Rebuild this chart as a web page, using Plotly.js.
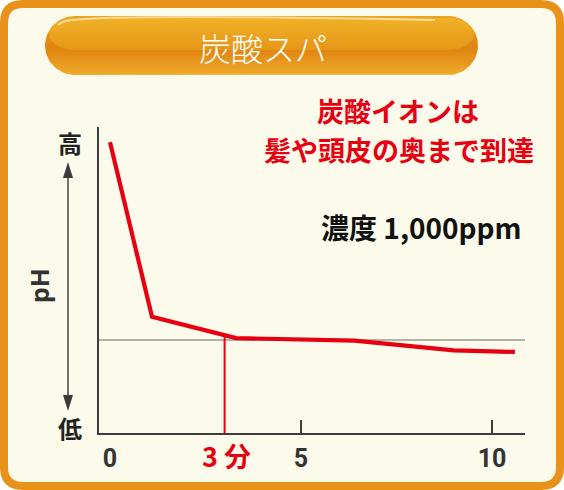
<!DOCTYPE html>
<html>
<head>
<meta charset="utf-8">
<script src="https://cdn.plot.ly/plotly-3.0.1.min.js"></script>
<style>html,body{margin:0;padding:0;background:#fff;}#chart{width:564px;height:490px;}</style>
</head>
<body>
<div id="chart"></div>
<script>
// ---- data ----
const timeMin = [0, 1.1, 3.3, 6.4, 9.0, 10.6];      // minutes
const phLevel = [9.5, 3.8, 3.1, 3.02, 2.7, 2.65];    // relative pH (high -> low)
const refLevel = 3.04;                               // grey reference level
const markTime = [3, 3];                             // 3 minutes marker
const markLevel = [0, 3.2];
const tickVals = [0, 5, 10];
const tickText = ['0', '5', '10'];
const minorTickVals = [5, 10];
const titleText = '炭酸スパ';
const noteLines = ['炭酸イオンは', '髪や頭皮の奥まで到達'];
const concText = '濃度 1,000ppm';
const markLabel = '3 分';

// ---- helpers (pixel -> paper) ----
const W = 564, H = 490;
const X = p => p / W, Y = p => 1 - p / H;
function rrPath(x0, y0, x1, y1, r) {
  const f = (a, b) => X(a).toFixed(5) + ',' + Y(b).toFixed(5);
  return 'M' + f(x0 + r, y0) + ' L' + f(x1 - r, y0) + ' Q' + f(x1, y0) + ' ' + f(x1, y0 + r) +
    ' L' + f(x1, y1 - r) + ' Q' + f(x1, y1) + ' ' + f(x1 - r, y1) +
    ' L' + f(x0 + r, y1) + ' Q' + f(x0, y1) + ' ' + f(x0, y1 - r) +
    ' L' + f(x0, y0 + r) + ' Q' + f(x0, y0) + ' ' + f(x0 + r, y0) + ' Z';
}
function pill(x0, y0, x1, y1, rx) {
  const ry = (y1 - y0) / 2, cy = (y0 + y1) / 2;
  const xs = [], ys = [];
  for (let i = 0; i <= 40; i++) { const a = Math.PI / 2 + Math.PI * i / 40; xs.push(x0 + rx + rx * Math.cos(a)); ys.push(cy - ry * Math.sin(a)); }
  for (let i = 0; i <= 40; i++) { const a = -Math.PI / 2 + Math.PI * i / 40; xs.push(x1 - rx + rx * Math.cos(a)); ys.push(cy - ry * Math.sin(a)); }
  xs.push(xs[0]); ys.push(ys[0]);
  return {xs, ys};
}

const red = '#E60012';
const pBase = pill(45, 16, 478, 75, 30);
const pGloss = pill(49, 18, 474, 50, 26);

const traces = [
  {x: timeMin, y: phLevel, type: 'scatter', mode: 'lines', line: {color: red, width: 4.2}, xaxis: 'x', yaxis: 'y', hoverinfo: 'skip'},
  {x: markTime, y: markLevel, type: 'scatter', mode: 'lines', line: {color: red, width: 2}, xaxis: 'x3', yaxis: 'y', hoverinfo: 'skip'},
  {x: pBase.xs, y: pBase.ys, type: 'scatter', mode: 'lines', fill: 'toself', line: {width: 0},
   fillgradient: {type: 'vertical', start: 16, stop: 75, colorscale: [[0, '#EBA51E'], [0.55, '#E0830F'], [1, '#EEAB2B']]},
   xaxis: 'x2', yaxis: 'y2', hoverinfo: 'skip'},
  {x: pGloss.xs, y: pGloss.ys, type: 'scatter', mode: 'lines', fill: 'toself', line: {width: 0},
   fillgradient: {type: 'vertical', start: 18, stop: 50, colorscale: [[0, '#F0B227'], [1, '#E79618']]},
   xaxis: 'x2', yaxis: 'y2', hoverinfo: 'skip'},
  {x: [58, 66, 435], y: [25, 21, 20], type: 'scatter', mode: 'lines', line: {color: 'rgba(255,255,255,0.55)', width: 2, shape: 'spline'},
   xaxis: 'x2', yaxis: 'y2', hoverinfo: 'skip'}
];

const xRange = [-11 / 38.2, (525 - 110) / 38.2];
const axisCol = '#3d3d3d';
const layout = {
  width: W, height: H,
  margin: {l: 0, r: 0, t: 0, b: 0},
  paper_bgcolor: '#ffffff', plot_bgcolor: 'rgba(0,0,0,0)',
  showlegend: false, hovermode: false,
  xaxis: {domain: [99 / W, 525 / W], range: xRange, showgrid: false, zeroline: false,
    showline: true, linecolor: axisCol, linewidth: 1.6,
    tickmode: 'array', tickvals: tickVals, ticktext: tickText, ticks: '',
    tickfont: {family: 'Liberation Sans Narrow, Roboto, sans-serif', size: 25, color: '#333', weight: 'bold'},
    ticklabelstandoff: 2, anchor: 'y', fixedrange: true},
  xaxis3: {overlaying: 'x', matches: 'x', range: xRange, anchor: 'y', showgrid: false, zeroline: false, showline: false,
    tickmode: 'array', tickvals: minorTickVals, ticks: 'inside', ticklen: 13, tickwidth: 1.6, tickcolor: axisCol,
    showticklabels: false, fixedrange: true},
  yaxis: {domain: [1 - 433 / H, 1 - 127 / H], range: [0, 10], showgrid: false, zeroline: false,
    showline: true, linecolor: axisCol, linewidth: 1.6, showticklabels: false, ticks: '', anchor: 'x', fixedrange: true},
  xaxis2: {domain: [0, 1], range: [0, W], visible: false, anchor: 'y2', fixedrange: true},
  yaxis2: {domain: [0, 1], range: [H, 0], visible: false, anchor: 'x2', fixedrange: true},
  shapes: [
    {type: 'path', xref: 'paper', yref: 'paper', layer: 'below', path: rrPath(4, 4, 560, 486, 19),
     fillcolor: '#FCFAEA', line: {color: '#E8921A', width: 8}},
    {type: 'line', xref: 'x domain', yref: 'y', x0: 0, x1: 1, y0: refLevel, y1: refLevel, layer: 'below',
     line: {color: '#9a9a94', width: 1.5}},
    {type: 'line', xref: 'paper', yref: 'paper', x0: X(68), x1: X(68), y0: Y(175), y1: Y(398), line: {color: '#3a3a3a', width: 1.4}},
    {type: 'path', xref: 'paper', yref: 'paper', path: 'M' + X(68) + ',' + Y(162) + ' L' + X(73) + ',' + Y(178) + ' L' + X(63) + ',' + Y(178) + ' Z',
     fillcolor: '#3a3a3a', line: {width: 0}},
    {type: 'path', xref: 'paper', yref: 'paper', path: 'M' + X(68) + ',' + Y(411) + ' L' + X(73) + ',' + Y(395) + ' L' + X(63) + ',' + Y(395) + ' Z',
     fillcolor: '#3a3a3a', line: {width: 0}}
  ],
  annotations: [
    {xref: 'paper', yref: 'paper', x: X(263), y: Y(47), text: titleText, showarrow: false, xanchor: 'center', yanchor: 'middle',
     font: {family: 'Noto Sans CJK JP, sans-serif', size: 32, color: '#ffffff', weight: 300}},
    {xref: 'paper', yref: 'paper', x: X(398), y: Y(110), text: noteLines[0], showarrow: false, xanchor: 'center', yanchor: 'middle',
     font: {family: 'Noto Sans CJK JP, sans-serif', size: 27, color: red, weight: 'bold'}},
    {xref: 'paper', yref: 'paper', x: X(399), y: Y(149), text: noteLines[1], showarrow: false, xanchor: 'center', yanchor: 'middle',
     font: {family: 'Noto Sans CJK JP, sans-serif', size: 27, color: red, weight: 'bold'}},
    {xref: 'paper', yref: 'paper', x: X(421), y: Y(227), text: concText, showarrow: false, xanchor: 'center', yanchor: 'middle',
     font: {family: 'Noto Sans CJK JP, sans-serif', size: 28, color: '#111', weight: 'bold'}},
    {xref: 'paper', yref: 'paper', x: X(70), y: Y(143), text: '高', showarrow: false, xanchor: 'center', yanchor: 'middle',
     font: {family: 'Noto Sans CJK JP, sans-serif', size: 24, color: '#222', weight: 'bold'}},
    {xref: 'paper', yref: 'paper', x: X(70), y: Y(427), text: '低', showarrow: false, xanchor: 'center', yanchor: 'middle',
     font: {family: 'Noto Sans CJK JP, sans-serif', size: 24, color: '#222', weight: 'bold'}},
    {xref: 'paper', yref: 'paper', x: X(39), y: Y(286), text: 'pH', textangle: -90, showarrow: false, xanchor: 'center', yanchor: 'middle',
     font: {family: 'Noto Sans, sans-serif', size: 25, color: '#333', weight: 'bold'}},
    {xref: 'x', yref: 'paper', x: markTime[0], y: Y(455), xshift: 2, text: markLabel, showarrow: false, xanchor: 'center', yanchor: 'middle',
     font: {family: 'Noto Sans CJK JP, sans-serif', size: 27, color: red, weight: 'bold'}}
  ]
};
Plotly.newPlot('chart', traces, layout, {staticPlot: true, displayModeBar: false});
</script>
</body>
</html>
